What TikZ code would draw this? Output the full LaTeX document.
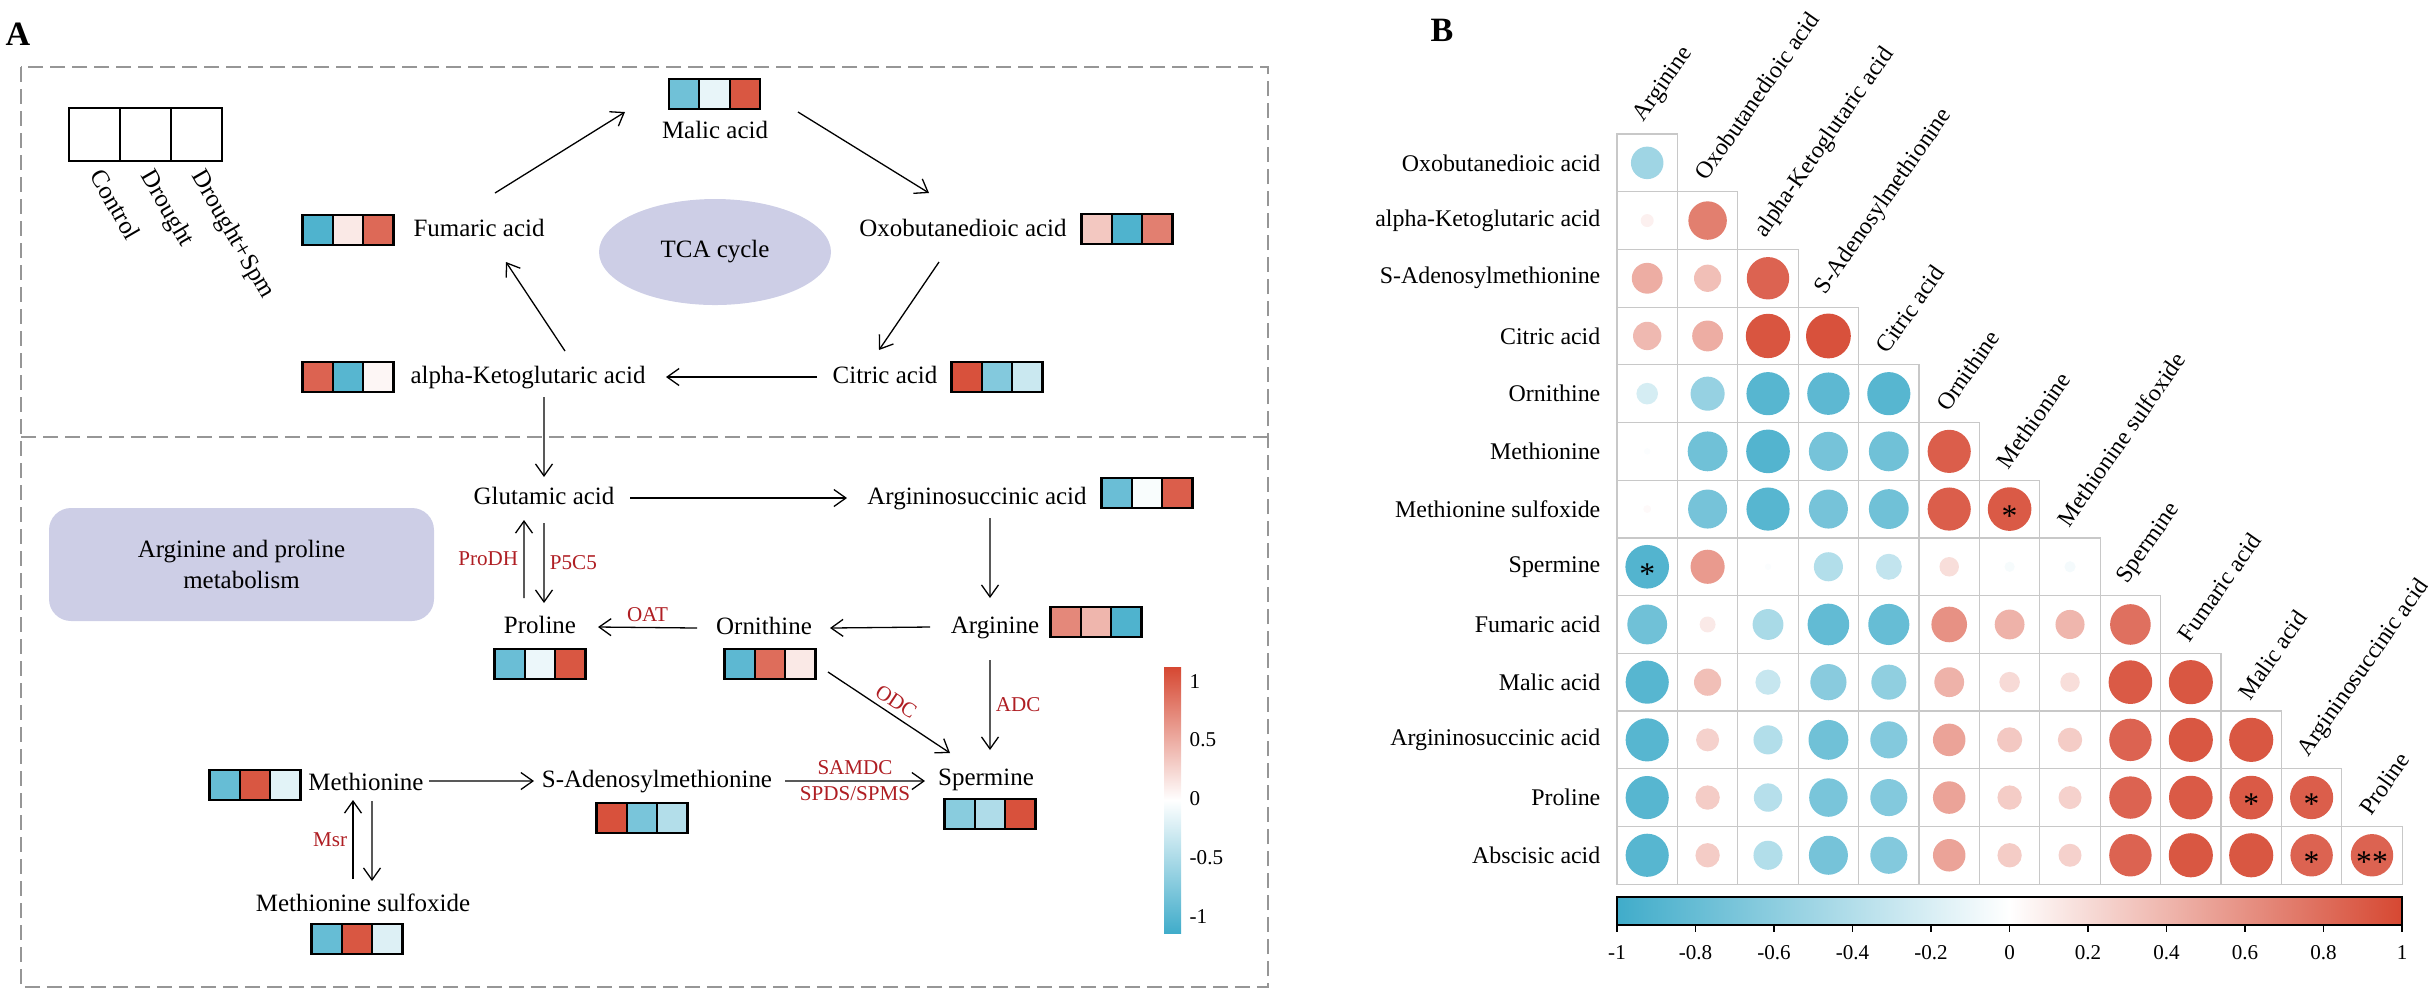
\documentclass[tikz,border=0pt]{standalone}
\usepackage{fontspec}
\setmainfont{Liberation Serif}
\usepackage{tikz}
\usetikzlibrary{arrows.meta,shapes.geometric}

\definecolor{cb}{RGB}{64,172,202}
\definecolor{cr}{RGB}{214,72,50}
\definecolor{enzred}{RGB}{175,30,35}
\definecolor{lav}{RGB}{205,206,230}
\definecolor{dgray}{RGB}{150,150,150}
\definecolor{lgray}{RGB}{200,200,200}

% heat strip: centre, three colours
\newcommand{\hmap}[4]{%
  \begin{scope}[shift={#1}]
    \draw[hcell,fill=#2] (-45.5,-15) rectangle (-15.2,15);
    \draw[hcell,fill=#3] (-15.2,-15) rectangle (15.2,15);
    \draw[hcell,fill=#4] (15.2,-15) rectangle (45.5,15);
  \end{scope}}

% one cell of the correlation plot: row, column, value
\newcommand{\corr}[3]{%
  \pgfmathsetmacro\cx{1617+60.4*(#2-1)}
  \pgfmathsetmacro\cy{134+57.7*(#1-1)}
  \draw[gridcell] (\cx,\cy) rectangle ++(60.4,57.7);
  \pgfmathtruncatemacro\pc{round(100*abs(#3))}
  \pgfmathtruncatemacro\isneg{#3<0}
  \ifnum\isneg=1 \def\cc{cb}\else\def\cc{cr}\fi
  \fill[\cc!\pc] ({\cx+30.2},{\cy+28.85}) circle[radius={2.3mm*sqrt(abs(#3))}];}

\begin{document}
\begin{tikzpicture}[x=0.1mm,y=-0.1mm,
    metab/.style={font=\fontsize{7.1pt}{8.5pt}\selectfont,inner sep=0pt,text height=1.8mm,text depth=0.5mm},
    enz/.style={text=enzred,font=\fontsize{6pt}{7pt}\selectfont,inner sep=1.5pt},
    flow/.style={-{Straight Barb[length=1.2mm,width=1.7mm]},line width=0.13mm},
    hcell/.style={draw=black,line width=0.22mm},
    dashbox/.style={draw=dgray,line width=0.2mm,dash pattern=on 1.5mm off 0.7mm},
    gridcell/.style={draw=lgray,line width=0.12mm},
    rowlab/.style={font=\fontsize{6.8pt}{8pt}\selectfont,anchor=east,inner sep=0pt},
    collab/.style={font=\fontsize{6.8pt}{8pt}\selectfont,anchor=west,inner sep=0pt,rotate=55},
    ticklab/.style={font=\fontsize{6pt}{7pt}\selectfont,inner sep=0pt},
    sigmark/.style={font=\fontsize{9pt}{9pt}\selectfont,inner sep=0pt,yshift=-0.7mm},
    panel/.style={font=\bfseries\fontsize{9.7pt}{10pt}\selectfont,inner sep=0pt}]

    \useasboundingbox (0,0) rectangle (2428,991);

    % Panel letters
    \node[panel] (lblA) at (18,34) {A};
    \node[panel] (lblB) at (1442,30) {B};

    % Dashed frames
    \draw[dashbox] (21,67) rectangle (1268,987);
    \draw[dashbox] (21,437) -- (1268,437);

    % Legend
    \draw[hcell,line width=0.15mm] (69,108) rectangle (120,161);
    \draw[hcell,line width=0.15mm] (120,108) rectangle (171,161);
    \draw[hcell,line width=0.15mm] (171,108) rectangle (222,161);
    \node[metab,rotate=-60,anchor=west] (lgc) at (94.5,172) {Control};
    \node[metab,rotate=-60,anchor=west] (lgd) at (145.5,172) {Drought};
    \node[metab,rotate=-60,anchor=west] (lgs) at (196.5,172) {Drought+Spm};

    % TCA cycle
    \node[ellipse,fill=lav,minimum width=23.2mm,minimum height=10.6mm,font=\fontsize{7.1pt}{8.5pt}\selectfont] (tca) at (715,252) {TCA cycle};
    \node[metab] (mal) at (715,132) {Malic acid};
    \node[metab] (fum) at (479,230) {Fumaric acid};
    \node[metab] (oxo) at (963,230) {Oxobutanedioic acid};
    \node[metab] (cit) at (885,377) {Citric acid};
    \node[metab] (akg) at (528,377) {alpha-Ketoglutaric acid};

    \hmap{(714.5,94)}{cb!75}{cb!12}{cr!92}
    \hmap{(348,230)}{cb!92}{cr!12}{cr!82}
    \hmap{(1127,229)}{cr!30}{cb!92}{cr!70}
    \hmap{(348,377)}{cr!85}{cb!88}{cr!5}
    \hmap{(997,377)}{cr!95}{cb!65}{cb!28}

    \draw[flow] ([xshift=1.6mm,yshift=3.7mm]fum.center) -- ([xshift=-9mm,yshift=2mm]mal.center);
    \draw[flow] ([xshift=8.3mm,yshift=2mm]mal.center) -- ([xshift=-3.4mm,yshift=3.7mm]oxo.center);
    \draw[flow] ([xshift=-2.4mm,yshift=-3.2mm]oxo.center) -- ([xshift=-0.6mm,yshift=2.7mm]cit.center);
    \draw[flow] ([xshift=-6.8mm]cit.center) -- ([xshift=13.8mm]akg.center);
    \draw[flow] ([xshift=3.7mm,yshift=2.6mm]akg.center) -- ([xshift=2.7mm,yshift=-3.2mm]fum.center);

    % Arginine and proline metabolism
    \node[fill=lav,rounded corners=2.2mm,minimum width=38.5mm,minimum height=11.3mm,align=center,font=\fontsize{7.1pt}{8.8pt}\selectfont] (apm) at (241.5,564.5) {Arginine and proline\\metabolism};
    \node[metab] (glu) at (544,498) {Glutamic acid};
    \node[metab] (asa) at (977,498) {Argininosuccinic acid};
    \node[metab] (arg) at (995,627) {Arginine};
    \node[metab] (orn) at (764,628) {Ornithine};
    \node[metab] (pro) at (540,627) {Proline};
    \node[metab] (met) at (366,784) {Methionine};
    \node[metab] (sam) at (657,781) {S-Adenosylmethionine};
    \node[metab] (spm) at (986,779) {Spermine};
    \node[metab] (mso) at (363,905) {Methionine sulfoxide};

    \hmap{(1147,493)}{cb!78}{cb!3}{cr!88}
    \hmap{(1096,622)}{cr!65}{cr!40}{cb!92}
    \hmap{(770,664)}{cb!85}{cr!80}{cr!12}
    \hmap{(540,664)}{cb!78}{cb!10}{cr!92}
    \hmap{(255,785)}{cb!80}{cr!92}{cb!15}
    \hmap{(642,818)}{cr!95}{cb!70}{cb!40}
    \hmap{(990,814)}{cb!62}{cb!42}{cr!95}
    \hmap{(357,939)}{cb!80}{cr!92}{cb!18}

    \draw[flow] ([xshift=1.6mm,yshift=-2mm]akg.center) -- ([yshift=2.1mm]glu.center);
    \draw[flow] ([xshift=8.6mm]glu.center) -- ([xshift=-13mm]asa.center);
    \draw[flow] ([xshift=1.3mm,yshift=-2mm]asa.center) -- ([xshift=-0.5mm,yshift=2.9mm]arg.center);
    \draw[flow] ([xshift=-6.5mm]arg.center) -- ([xshift=6.6mm]orn.center);
    \draw[flow] ([xshift=-6.7mm]orn.center) -- ([xshift=5.8mm]pro.center)
        node[midway,above,enz] {OAT};
    \draw[flow] ([xshift=-1.6mm,yshift=2.9mm]pro.center) -- ([xshift=-2mm,yshift=-2.2mm]glu.center)
        node[midway,left,enz] {ProDH};
    \draw[flow] ([yshift=-2.5mm]glu.center) -- ([xshift=0.4mm,yshift=2.4mm]pro.center)
        node[midway,right,enz] {P5C5};
    \draw[flow] ([xshift=6.4mm,yshift=-4.4mm]orn.center) -- ([xshift=-3.6mm,yshift=2.6mm]spm.center)
        node[midway,above,sloped,enz] {ODC};
    \draw[flow] ([xshift=-0.5mm,yshift=-3.3mm]arg.center) -- ([xshift=0.4mm,yshift=2.9mm]spm.center)
        node[midway,right,enz] {ADC};
    \draw[flow] ([xshift=12.8mm]sam.center) -- ([xshift=-6.1mm,yshift=-0.2mm]spm.center)
        node[midway,above,enz] {SAMDC} node[midway,below,enz] {SPDS/SPMS};
    \draw[flow] ([xshift=6.3mm,yshift=0.3mm]met.center) -- ([xshift=-12.3mm]sam.center);
    \draw[flow] ([xshift=-1mm,yshift=2.6mm]mso.center) -- ([xshift=-1.3mm,yshift=-1.6mm]met.center)
        node[midway,left,enz] {Msr};
    \draw[flow] ([xshift=0.6mm,yshift=-1.7mm]met.center) -- ([xshift=0.9mm,yshift=2.4mm]mso.center);

    % Colour key of panel A
    \shade[top color=cr,bottom color=white] (1164,667) rectangle (1181,800);
    \shade[top color=white,bottom color=cb] (1164,800) rectangle (1181,933);
    \node[ticklab,anchor=west] (ka1) at (1189,682) {1};
    \node[ticklab,anchor=west] (ka2) at (1189,740) {0.5};
    \node[ticklab,anchor=west] (ka3) at (1189,799) {0};
    \node[ticklab,anchor=west] (ka4) at (1189,858) {-0.5};
    \node[ticklab,anchor=west] (ka5) at (1189,917) {-1};

    % Correlation plot
    \foreach \t [count=\i] in {Oxobutanedioic acid,alpha-Ketoglutaric acid,S-Adenosylmethionine,Citric acid,Ornithine,Methionine,Methionine sulfoxide,Spermine,Fumaric acid,Malic acid,Argininosuccinic acid,Proline,Abscisic acid}
        \node[rowlab] (rl\i) at (1601,{134+57.7*(\i-0.5)}) {\t};
    \foreach \t [count=\j] in {Arginine,Oxobutanedioic acid,alpha-Ketoglutaric acid,S-Adenosylmethionine,Citric acid,Ornithine,Methionine,Methionine sulfoxide,Spermine,Fumaric acid,Malic acid,Argininosuccinic acid,Proline}
        \node[collab] (cl\j) at ({1617+60.4*(\j-0.5)-8},{134+57.7*(\j-1)-14}) {\t};

    \foreach \v [count=\c] in {-0.5} {\corr{1}{\c}{\v}}
    \foreach \v [count=\c] in {0.08,0.7} {\corr{2}{\c}{\v}}
    \foreach \v [count=\c] in {0.45,0.35,0.85} {\corr{3}{\c}{\v}}
    \foreach \v [count=\c] in {0.38,0.45,0.93,0.95} {\corr{4}{\c}{\v}}
    \foreach \v [count=\c] in {-0.22,-0.55,-0.88,-0.85,-0.88} {\corr{5}{\c}{\v}}
    \foreach \v [count=\c] in {-0.02,-0.75,-0.9,-0.72,-0.75,0.88} {\corr{6}{\c}{\v}}
    \foreach \v [count=\c] in {0.03,-0.72,-0.88,-0.72,-0.75,0.88,0.9} {\corr{7}{\c}{\v}}
    \foreach \v [count=\c] in {-0.9,0.55,-0.02,-0.4,-0.32,0.18,-0.05,-0.06} {\corr{8}{\c}{\v}}
    \foreach \v [count=\c] in {-0.75,0.12,-0.45,-0.82,-0.8,0.6,0.42,0.4,0.78} {\corr{9}{\c}{\v}}
    \foreach \v [count=\c] in {-0.88,0.35,-0.3,-0.62,-0.58,0.42,0.2,0.18,0.9,0.92} {\corr{10}{\c}{\v}}
    \foreach \v [count=\c] in {-0.88,0.25,-0.4,-0.75,-0.65,0.5,0.3,0.28,0.85,0.92,0.92} {\corr{11}{\c}{\v}}
    \foreach \v [count=\c] in {-0.88,0.28,-0.38,-0.7,-0.65,0.5,0.28,0.25,0.85,0.9,0.9,0.88} {\corr{12}{\c}{\v}}
    \foreach \v [count=\c] in {-0.88,0.28,-0.4,-0.72,-0.65,0.5,0.28,0.25,0.85,0.92,0.92,0.85,0.85} {\corr{13}{\c}{\v}}

    % Significance marks
    \foreach \r/\c/\s [count=\k] in {7/7/*,8/1/*,12/11/*,12/12/*,13/12/*,13/13/**}
        \node[sigmark] (sg\k) at ({1617+60.4*(\c-0.5)},{134+57.7*(\r-0.5)}) {\s};

    % Colour key of panel B
    \shade[left color=cb,right color=white] (1617,897) rectangle (2009.5,925);
    \shade[left color=white,right color=cr] (2009.5,897) rectangle (2402,925);
    \draw[line width=0.15mm] (1617,897) rectangle (2402,925);
    \foreach \t [count=\k from 0] in {-1,-0.8,-0.6,-0.4,-0.2,0,0.2,0.4,0.6,0.8,1} {
        \draw[line width=0.12mm] ({1617+78.5*\k},925) -- ++(0,7);
        \node[ticklab] (kb\k) at ({1617+78.5*\k},953) {\t};
    }
\end{tikzpicture}
\end{document}
